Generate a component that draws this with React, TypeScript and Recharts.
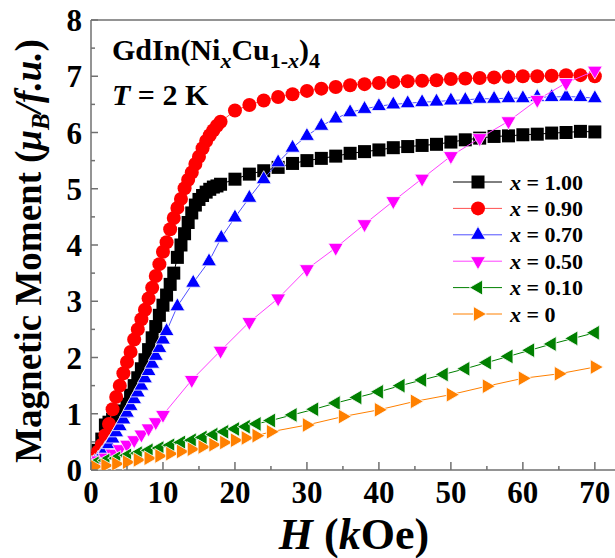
import {
  Legend,
  ReferenceLine,
  Scatter,
  ScatterChart,
  XAxis,
  YAxis,
} from "recharts";

const FONT = '"Liberation Serif", "Times New Roman", serif';
const AXIS = "#707070";

// x = 1.00
const h100 = [
  0.2, 0.5, 1, 1.5, 2, 2.5, 3, 3.5, 4, 4.5, 5, 5.5, 6, 6.5, 7, 7.5, 8, 8.5, 9,
  9.5, 10, 10.5, 11, 11.5, 12, 12.5, 13, 13.5, 14, 14.5, 15, 15.5, 16, 16.5, 17,
  17.5, 18, 20, 22, 24, 26, 28, 30, 32, 34, 36, 38, 40, 42, 44, 46, 48, 50, 52,
  54, 56, 58, 60, 62, 64, 66, 68, 70,
];
const m100 = [
  0.1, 0.2, 0.35, 0.55, 0.8, 0.85, 0.9, 0.95, 1.0, 1.05, 1.17, 1.33, 1.5, 1.64,
  1.8, 1.96, 2.14, 2.35, 2.55, 2.75, 2.93, 3.11, 3.3, 3.5, 3.78, 4.0, 4.2, 4.4,
  4.57, 4.71, 4.81, 4.88, 4.94, 4.99, 5.03, 5.05, 5.08, 5.17, 5.26, 5.32, 5.38,
  5.45, 5.5, 5.54, 5.58, 5.63, 5.66, 5.69, 5.73, 5.75, 5.77, 5.79, 5.83, 5.87,
  5.9, 5.93, 5.94, 5.96, 5.97, 5.99, 6.0, 6.02, 6.01,
];

// x = 0.90
const h090 = h100;
const m090 = [
  0.08, 0.2, 0.33, 0.45, 0.62, 0.82, 1.08, 1.3, 1.5, 1.72, 1.92, 2.1, 2.32, 2.5,
  2.68, 2.85, 3.05, 3.24, 3.45, 3.66, 3.88, 4.05, 4.28, 4.48, 4.66, 4.82, 5.01,
  5.16, 5.29, 5.44, 5.57, 5.72, 5.85, 5.95, 6.04, 6.12, 6.19, 6.39, 6.49, 6.57,
  6.63, 6.68, 6.74, 6.78, 6.81, 6.84, 6.86, 6.88, 6.9, 6.91, 6.92, 6.93, 6.95,
  6.96, 6.97, 6.98, 6.99, 7.0, 7.0, 7.01, 7.02, 7.02, 7.0,
];

// x = 0.70
const h070 = [
  0.2, 0.5, 1, 1.5, 2, 2.5, 3, 3.5, 4, 4.5, 5, 5.5, 6, 6.5, 7, 7.5, 8, 8.5, 9,
  9.5, 10, 10.5, 12, 14.2, 16.4, 18.1, 20, 22, 24, 26, 28, 30, 32, 34, 36, 38,
  40, 42, 44, 46, 48, 50, 52, 54, 56, 58, 60, 62, 64, 66, 68, 70,
];
const m070 = [
  0.1, 0.14, 0.2, 0.28, 0.37, 0.46, 0.56, 0.67, 0.78, 0.9, 1.02, 1.14, 1.26,
  1.38, 1.5, 1.63, 1.76, 1.89, 2.03, 2.17, 2.32, 2.47, 2.91, 3.33, 3.71, 4.13,
  4.49, 4.84, 5.17, 5.47, 5.73, 5.94, 6.12, 6.25, 6.36, 6.42, 6.47, 6.5, 6.52,
  6.54, 6.55, 6.57, 6.58, 6.6, 6.6, 6.61, 6.61, 6.63, 6.63, 6.64, 6.63, 6.61,
];

// x = 0.50
const h050 = [
  0.5, 1, 2, 3, 4, 5, 6, 7, 8, 9, 10, 14, 18, 22, 26, 30, 34, 38, 42, 46, 50,
  54, 58, 62, 66, 70,
];
const m050 = [
  0.14, 0.17, 0.22, 0.29, 0.37, 0.45, 0.53, 0.63, 0.74, 0.85, 0.98, 1.6, 2.12,
  2.63, 3.05, 3.57, 3.95, 4.37, 4.78, 5.18, 5.58, 5.9, 6.2, 6.58, 6.88, 7.1,
];

// x = 0.10
const h010 = [
  0.5, 2, 3.5, 5, 6.5, 8, 9.5, 11, 12.5, 14, 15.5, 17, 18.5, 20, 21.5, 23, 25,
  28, 31, 34, 37, 40, 43, 46, 49, 52, 55, 58, 61, 64, 67, 70,
];
const m010 = [
  0.12, 0.17, 0.21, 0.26, 0.3, 0.35, 0.39, 0.44, 0.49, 0.53, 0.58, 0.63, 0.68,
  0.73, 0.77, 0.82, 0.88, 0.98, 1.08, 1.19, 1.29, 1.39, 1.5, 1.6, 1.7, 1.8,
  1.91, 2.02, 2.13, 2.24, 2.34, 2.44,
];

// x = 0
const h000 = [
  0.5, 2, 3.5, 5, 6.5, 8, 9.5, 11, 12.5, 14, 15.5, 17, 18.5, 20, 21.5, 23, 25,
  30, 35, 40, 45, 50, 55, 60, 65, 70,
];
const m000 = [
  0.06, 0.08, 0.11, 0.14, 0.18, 0.21, 0.25, 0.29, 0.33, 0.37, 0.41, 0.45, 0.49,
  0.53, 0.57, 0.61, 0.68, 0.8, 0.95, 1.07, 1.22, 1.34, 1.49, 1.63, 1.71, 1.83,
];

const xTicks = [0, 5, 10, 15, 20, 25, 30, 35, 40, 45, 50, 55, 60, 65, 70];
const yTicks = [
  0, 0.5, 1, 1.5, 2, 2.5, 3, 3.5, 4, 4.5, 5, 5.5, 6, 6.5, 7, 7.5, 8,
];

type Kind = "square" | "circle" | "up" | "down" | "left" | "right";

const series = [
  { label: "1.00", color: "#000000", line: "#000000", kind: "square" as Kind, h: h100, m: m100 },
  { label: "0.90", color: "#ff0000", line: "#ff5050", kind: "circle" as Kind, h: h090, m: m090 },
  { label: "0.70", color: "#0000ff", line: "#5050ff", kind: "up" as Kind, h: h070, m: m070 },
  { label: "0.50", color: "#ff00ff", line: "#ff40ff", kind: "down" as Kind, h: h050, m: m050 },
  { label: "0.10", color: "#008000", line: "#008000", kind: "left" as Kind, h: h010, m: m010 },
  { label: "0", color: "#ff8000", line: "#ff8000", kind: "right" as Kind, h: h000, m: m000 },
];

function Marker({ kind, color, cx, cy }: { kind: Kind; color: string; cx: number; cy: number }) {
  const tri = { fill: color, stroke: "#ffffff", strokeWidth: 0.8 };
  switch (kind) {
    case "square":
      return <rect x={cx - 6.5} y={cy - 6.5} width={13} height={13} fill={color} />;
    case "circle":
      return <circle cx={cx} cy={cy} r={7} fill={color} />;
    case "up":
      return <polygon points={`${cx},${cy - 8.5} ${cx + 7.5},${cy + 4.5} ${cx - 7.5},${cy + 4.5}`} {...tri} />;
    case "down":
      return <polygon points={`${cx},${cy + 8.5} ${cx + 7.5},${cy - 4.5} ${cx - 7.5},${cy - 4.5}`} {...tri} />;
    case "left":
      return <polygon points={`${cx - 8.5},${cy} ${cx + 4.5},${cy - 7.5} ${cx + 4.5},${cy + 7.5}`} {...tri} />;
    default:
      return <polygon points={`${cx + 8.5},${cy} ${cx - 4.5},${cy - 7.5} ${cx - 4.5},${cy + 7.5}`} {...tri} />;
  }
}

function XTick(props: any) {
  const { x, y, payload } = props;
  const major = payload.value % 10 === 0;
  return (
    <g>
      <line x1={x} y1={y} x2={x} y2={y - (major ? 8 : 4)} stroke={AXIS} strokeWidth={1.5} />
      {major && (
        <text x={x} y={y + 33} textAnchor="middle" fontFamily={FONT} fontWeight="bold" fontSize={31} fill="#000">
          {payload.value}
        </text>
      )}
    </g>
  );
}

function YTick(props: any) {
  const { x, y, payload } = props;
  const major = Number.isInteger(payload.value);
  return (
    <g>
      <line x1={x} y1={y} x2={x + (major ? 7 : 4)} y2={y} stroke={AXIS} strokeWidth={1.5} />
      {major && (
        <text x={x - 9} y={y + 11} textAnchor="end" fontFamily={FONT} fontWeight="bold" fontSize={31} fill="#000">
          {payload.value}
        </text>
      )}
    </g>
  );
}

function XTitle() {
  return (
    <text x={354} y={549} textAnchor="middle" fontFamily={FONT} fontWeight="bold" fontSize={44} fill="#000">
      <tspan fontStyle="italic">H</tspan> (<tspan fontStyle="italic">k</tspan>Oe)
    </text>
  );
}

function YTitle() {
  return (
    <text
      transform="translate(41, 251) rotate(-90)"
      textAnchor="middle"
      fontFamily={FONT}
      fontWeight="bold"
      fontSize={37}
      fill="#000"
    >
      Magnetic Moment (<tspan fontStyle="italic">μ</tspan>
      <tspan fontStyle="italic" fontSize={25} dy={8}>B</tspan>
      <tspan fontStyle="italic" dy={-8}>/f.u.</tspan>)
    </text>
  );
}

function LegendBox() {
  return (
    <svg width={165} height={160}>
      {series.map((s, i) => {
        const cy = 13 + i * 26.4;
        return (
          <g key={s.label}>
            <line x1={3} x2={52} y1={cy} y2={cy} stroke={s.line} strokeWidth={1} />
            <Marker kind={s.kind} color={s.color} cx={28} cy={cy} />
            <text x={60} y={cy + 7.5} fontFamily={FONT} fontWeight="bold" fontSize={22} fill="#000">
              <tspan fontStyle="italic">x</tspan> = {s.label}
            </text>
          </g>
        );
      })}
    </svg>
  );
}

export default function App() {
  return (
    <div style={{ position: "absolute", left: 0, top: 0, width: 615, height: 558, background: "#fff" }}>
      <ScatterChart width={615} height={558} margin={{ top: 20, right: 0, bottom: 0, left: 0 }}>
        <XAxis
          type="number"
          dataKey="h"
          domain={[0, 72.8]}
          ticks={xTicks}
          allowDataOverflow
          height={88}
          tickSize={0}
          tickMargin={0}
          tickLine={false}
          axisLine={{ stroke: AXIS, strokeWidth: 1.5 }}
          tick={<XTick />}
          interval={0}
          label={<XTitle />}
        />
        <YAxis
          type="number"
          dataKey="m"
          domain={[0, 8]}
          ticks={yTicks}
          allowDataOverflow
          width={91}
          tickSize={0}
          tickMargin={0}
          tickLine={false}
          axisLine={{ stroke: AXIS, strokeWidth: 1.5 }}
          tick={<YTick />}
          interval={0}
          label={<YTitle />}
        />
        <ReferenceLine y={8} stroke={AXIS} strokeWidth={1.5} />
        {series.map((s) => (
          <Scatter
            key={s.label}
            name={`x = ${s.label}`}
            data={s.h.map((h, i) => ({ h, m: s.m[i] }))}
            fill={s.color}
            line={{ stroke: s.line, strokeWidth: 1 }}
            lineType="joint"
            isAnimationActive={false}
            shape={(p: any) => <Marker kind={s.kind} color={s.color} cx={p.cx} cy={p.cy} />}
          />
        ))}
        <Legend
          layout="horizontal"
          verticalAlign="middle"
          align="center"
          content={<LegendBox />}
          wrapperStyle={{ left: 450, top: 169, width: 165, height: 160 }}
        />
      </ScatterChart>
      <svg
        width={615}
        height={558}
        style={{ position: "absolute", left: 0, top: 0, pointerEvents: "none" }}
      >
        <text x={112} y={60} fontFamily={FONT} fontWeight="bold" fontSize={30} fill="#000">
          GdIn(Ni
          <tspan fontStyle="italic" fontSize={22} dy={8}>x</tspan>
          <tspan dy={-8}>Cu</tspan>
          <tspan fontSize={22} dy={8}>1-</tspan>
          <tspan fontSize={22} fontStyle="italic">x</tspan>
          <tspan dy={-8}>)</tspan>
          <tspan fontSize={22} dy={8}>4</tspan>
        </text>
        <text x={112} y={105} fontFamily={FONT} fontWeight="bold" fontSize={30} fill="#000">
          <tspan fontStyle="italic">T</tspan> = 2 K
        </text>
      </svg>
    </div>
  );
}
